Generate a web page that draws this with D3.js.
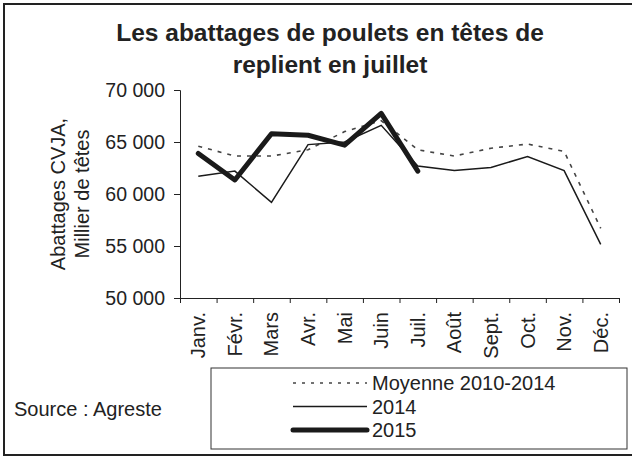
<!DOCTYPE html>
<html>
<head>
<meta charset="utf-8">
<script src="https://cdn.jsdelivr.net/npm/d3@7"></script>
<style>
  body { margin: 0; background: #fff; }
  text { font-family: "Liberation Sans", Arial, sans-serif; fill: #222; }
</style>
</head>
<body>
<script>
const months = ["Janv.", "Févr.", "Mars", "Avr.", "Mai", "Juin", "Juil.", "Août", "Sept.", "Oct.", "Nov.", "Déc."]
const moyenne = [64600, 63650, 63650, 64250, 66000, 67050, 64250, 63650, 64400, 64800, 64100, 56700]
const y2014 = [61700, 62200, 59200, 64750, 65000, 66600, 62700, 62250, 62550, 63600, 62250, 55150]
const y2015 = [63900, 61350, 65800, 65650, 64700, 67750, 62200]
const yTicks = [50000, 55000, 60000, 65000, 70000]
const titleLines = ["Les abattages de poulets en têtes de", "replient en juillet"]
const yTitle = ["Abattages CVJA,", "Millier de têtes"]

const WIDTH = 632
const HEIGHT = 457
const svg = d3.select('body').append('svg').attr('width', WIDTH).attr('height', HEIGHT)

// cadre extérieur
svg.append('rect')
  .attr('x', 4).attr('y', 4).attr('width', 700).attr('height', 451)
  .attr('fill', 'none').attr('stroke', '#222').attr('stroke-width', 2)

// titre
svg.selectAll('.title')
  .data(titleLines)
  .enter()
  .append('text')
  .attr('x', 330)
  .attr('y', (d, i) => 41 + i * 32)
  .attr('text-anchor', 'middle')
  .style('font-size', '24.5px')
  .style('font-weight', 'bold')
  .text(d => d)

const x = d3.scaleBand().domain(months).range([180, 619])
const xEdges = d3.scaleLinear().domain([0, months.length]).range([180, 619])
const y = d3.scaleLinear().domain([50000, 70000]).range([298, 90])
const cx = m => x(m) + x.bandwidth() / 2

// axe Y
const yAxis = svg.append('g')
  .attr('transform', 'translate(180,0)')
  .call(d3.axisLeft(y).tickValues(yTicks).tickSize(6).tickPadding(9)
    .tickFormat(d => d3.format(',')(d).replace(',', ' ')))
yAxis.select('.domain').attr('stroke', '#222')
yAxis.selectAll('.tick line').attr('stroke', '#222')
yAxis.selectAll('text').style('font-size', '19.5px').style('font-family', '"Liberation Sans", Arial, sans-serif').attr('fill', '#222')

// axe X
const xAxis = svg.append('g')
  .attr('transform', 'translate(0,298)')
  .call(d3.axisBottom(xEdges).tickValues(d3.range(months.length + 1)).tickSize(5).tickFormat(''))
xAxis.select('.domain').attr('stroke', '#222')
xAxis.selectAll('.tick line').attr('stroke', '#222')

svg.selectAll('.xlab')
  .data(months)
  .enter()
  .append('text')
  .attr('transform', d => `translate(${cx(d)},312) rotate(-90)`)
  .attr('text-anchor', 'end')
  .attr('dy', '0.35em')
  .style('font-size', '20px')
  .text(d => d)

// titre de l'axe Y
svg.selectAll('.ytitle')
  .data(yTitle)
  .enter()
  .append('text')
  .attr('transform', (d, i) => `translate(${58 + i * 24},194) rotate(-90)`)
  .attr('text-anchor', 'middle')
  .attr('dy', '0.35em')
  .style('font-size', '20px')
  .text(d => d)

// courbes
const line = d3.line()
  .x((d, i) => cx(months[i]))
  .y(d => y(d))

svg.append('path').datum(moyenne).attr('d', line)
  .attr('fill', 'none').attr('stroke', '#444').attr('stroke-width', 1.6).attr('stroke-dasharray', '4,6')
svg.append('path').datum(y2014).attr('d', line)
  .attr('fill', 'none').attr('stroke', '#1a1a1a').attr('stroke-width', 1.5)
svg.append('path').datum(y2015).attr('d', line)
  .attr('fill', 'none').attr('stroke', '#1a1a1a').attr('stroke-width', 5)
  .attr('stroke-linejoin', 'round').attr('stroke-linecap', 'round')

// source
svg.append('text').attr('x', 14).attr('y', 416).style('font-size', '20px').text('Source : Agreste')

// légende
svg.append('rect')
  .attr('x', 211).attr('y', 368).attr('width', 416).attr('height', 81)
  .attr('fill', 'none').attr('stroke', '#333').attr('stroke-width', 1)

const legend = [
  { name: 'Moyenne 2010-2014', width: 1.5, dash: '3,6', color: '#444' },
  { name: '2014', width: 1.5, dash: null, color: '#1a1a1a' },
  { name: '2015', width: 5, dash: null, color: '#1a1a1a' }
]
const lg = svg.selectAll('.leg')
  .data(legend)
  .enter()
  .append('g')
  .attr('transform', (d, i) => `translate(0,${383 + i * 23.5})`)
lg.append('line')
  .attr('x1', 293).attr('x2', 367).attr('y1', 0).attr('y2', 0)
  .attr('stroke', d => d.color).attr('stroke-width', d => d.width)
  .attr('stroke-dasharray', d => d.dash)
  .attr('stroke-linecap', d => d.width > 2 ? 'round' : 'butt')
lg.append('text')
  .attr('x', 372).attr('y', 0).attr('dy', '0.35em')
  .style('font-size', '20px')
  .text(d => d.name)
</script>
</body>
</html>
